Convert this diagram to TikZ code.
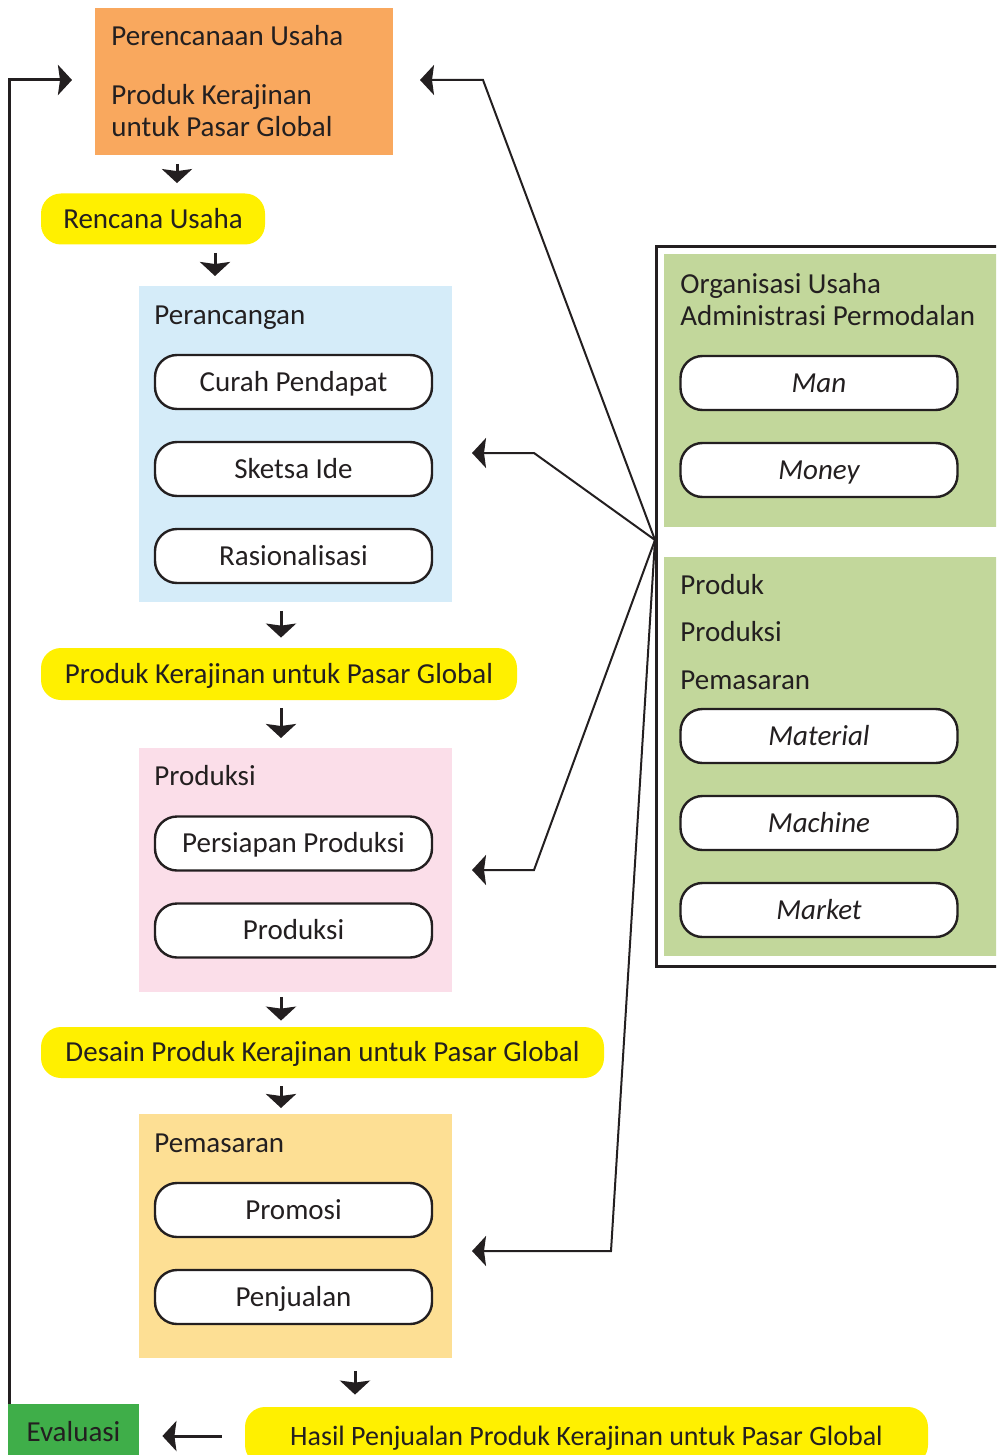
\documentclass[tikz,border=0pt]{standalone}
\usepackage{fontspec}
\setmainfont{Carlito}
\usetikzlibrary{arrows.meta}

\definecolor{ink}{RGB}{35,31,32}
\definecolor{planorange}{RGB}{249,168,94}
\definecolor{tagyellow}{RGB}{255,240,0}
\definecolor{designblue}{RGB}{213,236,249}
\definecolor{prodpink}{RGB}{251,222,233}
\definecolor{marketsand}{RGB}{253,223,148}
\definecolor{sidegreen}{RGB}{194,215,155}
\definecolor{evalgreen}{RGB}{63,174,73}

\begin{document}
\begin{tikzpicture}[x=0.5pt,y=-0.5pt,
	every node/.style={text=ink, font=\fontsize{14.5}{17}\selectfont},
	panel/.style={anchor=north west, inner sep=0pt},
	title/.style={anchor=west, inner sep=0pt, text height=9.3pt, text depth=0pt},
	pill/.style={draw=ink, line width=1.2pt, fill=white, rounded corners=11pt,
		minimum width=138.5pt, minimum height=27pt, inner sep=0pt,
		text height=9.3pt, text depth=0pt},
	tag/.style={fill=tagyellow, rounded corners=10pt, inner sep=0pt,
		text height=9.3pt, text depth=0pt},
	down/.style={draw=ink, line width=1.5pt, shorten <=4pt, shorten >=5pt,
		-{Stealth[length=7pt, width=15pt, inset=1pt]}},
	fan/.style={draw=ink, line width=1pt,
		-{Stealth[length=7pt, width=15pt, inset=1pt]}}]
	
	\useasboundingbox (0,0) rectangle (996,1455);
	\clip (0,0) rectangle (996,1455);
	
	%%%%% left column %%%%%
	
	\node[panel, fill=planorange, minimum width=149pt, minimum height=73.5pt] (plan) at (95,8) {};
	\node[title] (planA) at (111,36) {Perencanaan Usaha};
	\node[title] (planB) at (111,95) {Produk Kerajinan};
	\node[title] (planC) at (111,127) {untuk Pasar Global};
	
	\node[tag, minimum width=112pt, minimum height=25.5pt] (rencana) at (153,219) {Rencana Usaha};
	
	\node[panel, fill=designblue, minimum width=156.5pt, minimum height=158pt] (design) at (139,286) {};
	\node[title] (designT) at (154,315) {Perancangan};
	\node[pill] (curah) at (293.5,382) {Curah Pendapat};
	\node[pill] (sketsa) at (293.5,469) {Sketsa Ide};
	\node[pill] (rasio) at (293.5,556) {Rasionalisasi};
	
	\node[tag, minimum width=238pt, minimum height=26pt] (produk) at (279,674) {Produk Kerajinan untuk Pasar Global};
	
	\node[panel, fill=prodpink, minimum width=156.5pt, minimum height=122pt] (production) at (139,748) {};
	\node[title] (productionT) at (154,776) {Produksi};
	\node[pill] (persiapan) at (293.5,843.5) {Persiapan Produksi};
	\node[pill] (produksi) at (293.5,930.5) {Produksi};
	
	\node[tag, minimum width=281.5pt, minimum height=25.5pt] (desain) at (322.5,1052.5) {Desain Produk Kerajinan untuk Pasar Global};
	
	\node[panel, fill=marketsand, minimum width=156.5pt, minimum height=122pt] (marketing) at (139,1114) {};
	\node[title] (marketingT) at (154,1143) {Pemasaran};
	\node[pill] (promosi) at (293.5,1210) {Promosi};
	\node[pill] (penjualan) at (293.5,1297) {Penjualan};
	
	\node[tag, minimum width=341.5pt, minimum height=29pt, font=\fontsize{14}{17}\selectfont] (hasil) at (586.5,1436) {Hasil Penjualan Produk Kerajinan untuk Pasar Global};
	
	\node[fill=evalgreen, minimum width=65.5pt, minimum height=32pt, inner sep=0pt, text height=9.3pt, text depth=0pt] (eval) at (73.5,1436) {\raisebox{2pt}{Evaluasi}};
	
	%%%%% right column %%%%%
	
	\node[panel, draw=ink, line width=1.4pt, fill=white, minimum width=180pt, minimum height=360pt] (frame) at (655,245) {};
	\node[panel, fill=sidegreen, minimum width=175pt, minimum height=136.5pt] (org) at (664,254) {};
	\node[title] (orgA) at (680,284) {Organisasi Usaha};
	\node[title] (orgB) at (680,316) {Administrasi Permodalan};
	\node[pill] (man) at (819,383) {\itshape Man};
	\node[pill] (money) at (819,470) {\itshape Money};
	
	\node[panel, fill=sidegreen, minimum width=175pt, minimum height=199.5pt] (ops) at (664,557) {};
	\node[title] (opsA) at (680,585) {Produk};
	\node[title] (opsB) at (680,632) {Produksi};
	\node[title] (opsC) at (680,680) {Pemasaran};
	\node[pill] (material) at (819,736) {\itshape Material};
	\node[pill] (machine) at (819,823) {\itshape Machine};
	\node[pill] (market) at (819,910) {\itshape Market};
	
	%%%%% arrows %%%%%
	
	\draw[down] (177,0 |- plan.south) -- (177,0 |- rencana.north);
	\draw[down] (215,0 |- rencana.south) -- (215,0 |- design.north);
	\draw[down] (281,0 |- design.south) -- (281,0 |- produk.north);
	\draw[down] (281,0 |- produk.south) -- (281,0 |- production.north);
	\draw[down, shorten <=2pt, shorten >=3pt] (281,0 |- production.south) -- (281,0 |- desain.north);
	\draw[down, shorten >=3pt] (281,0 |- desain.south) -- (281,0 |- marketing.north);
	\draw[down, shorten <=6pt, shorten >=6pt] (355,0 |- marketing.south) -- (355,0 |- hasil.north);
	
	\draw[down, shorten <=11.5pt, shorten >=11.5pt] (hasil.west) -- (eval.east);
	
	\coordinate (hub) at (655,540);
	\coordinate (tipPlan) at (420,80);
	\coordinate (tipDesign) at (472,453);
	\coordinate (tipProd) at (472,870);
	\coordinate (tipMarket) at (472,1251);
	\coordinate (tipBack) at (72,80);
	
	\draw[fan] (hub) -- (483,80) -- (tipPlan);
	\draw[fan] (hub) -- (534,453) -- (tipDesign);
	\draw[fan] (hub) -- (534,870) -- (tipProd);
	\draw[fan] (hub) -- (611,1251) -- (tipMarket);
	
	\draw[fan, line width=1.5pt] ([xshift=1pt]eval.north west) |- (tipBack);
	
\end{tikzpicture}
\end{document}
